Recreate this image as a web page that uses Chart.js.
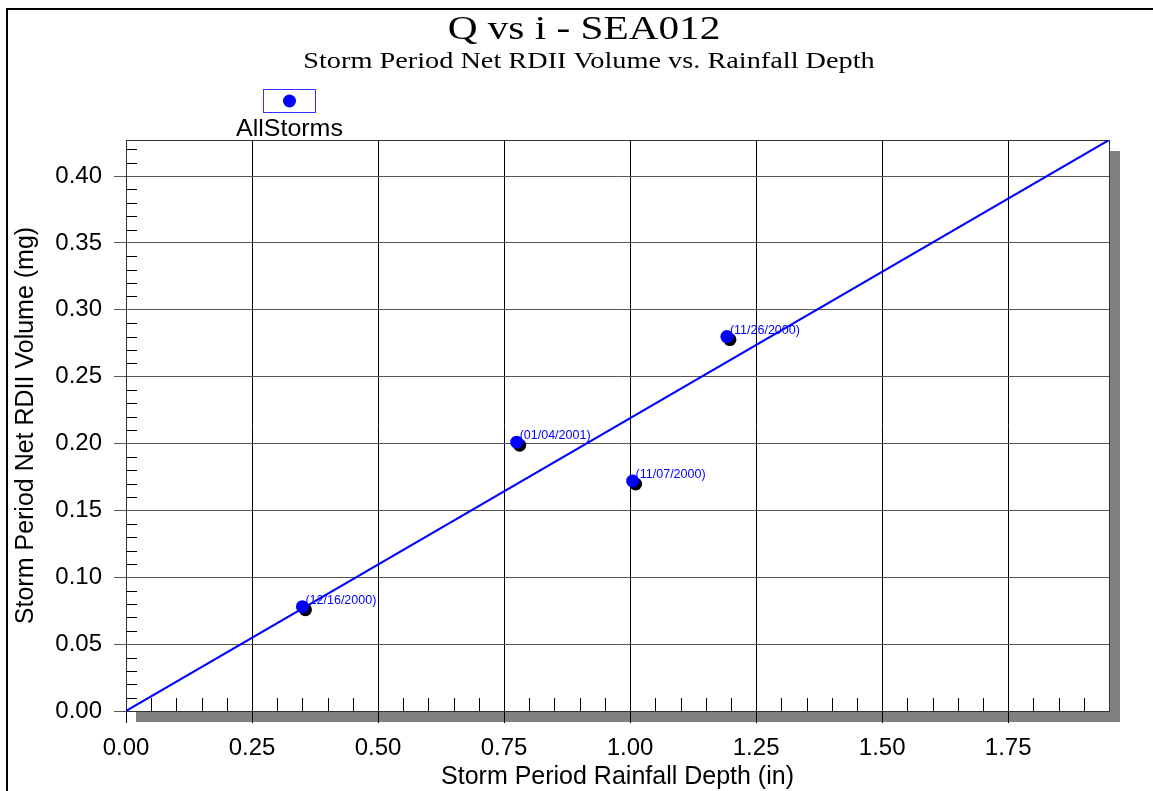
<!DOCTYPE html>
<html>
<head>
<meta charset="utf-8">
<title>Q vs i - SEA012</title>
<script src="https://cdn.jsdelivr.net/npm/chart.js@4.4.1/dist/chart.umd.min.js"></script>
<style>
  html, body { margin: 0; padding: 0; background: #ffffff; overflow: hidden; }
  canvas { display: block; }
</style>
</head>
<body>
<canvas id="myChart" width="1153" height="791"></canvas>
<script>
// data
const stormLabels = ['(12/16/2000)', '(01/04/2001)', '(11/07/2000)', '(11/26/2000)'];
const rainDepth = [0.350, 0.775, 1.005, 1.192];   // in
const rdiiVolume = [0.078, 0.201, 0.172, 0.280];  // mg

// fitted line through origin
const fitX = [0, 1.95];
const fitY = [0, 0.427];

const xTicks = [0, 0.25, 0.5, 0.75, 1.0, 1.25, 1.5, 1.75];
const yTicks = [0, 0.05, 0.10, 0.15, 0.20, 0.25, 0.30, 0.35, 0.40];

const sansFont = '"Liberation Sans", Arial, sans-serif';
const serifFont = '"Liberation Serif", "Times New Roman", serif';

// text stretched sideways a bit, like the original
function wideText(ctx, text, x, y, font, sx, align) {
     ctx.save();
     ctx.font = font;
     ctx.textAlign = align || 'center';
     ctx.textBaseline = 'alphabetic';
     ctx.translate(x, y);
     ctx.scale(sx, 1);
     ctx.fillText(text, 0, 0);
     ctx.restore();
}

const framePlugin = {
     id: 'frame',
     beforeDraw(chart) {
          const { ctx, chartArea: a } = chart;
          ctx.save();
          ctx.fillStyle = '#ffffff';
          ctx.fillRect(0, 0, chart.width, chart.height);
          // drop shadow of the plot box
          ctx.fillStyle = '#808080';
          ctx.fillRect(a.left + 10, a.top + 11, a.right - a.left + 1, a.bottom - a.top);
          ctx.fillStyle = '#ffffff';
          ctx.fillRect(a.left, a.top, a.right - a.left, a.bottom - a.top);
          // outer frame (only left / top in view)
          ctx.strokeStyle = '#000000';
          ctx.lineWidth = 2;
          ctx.strokeRect(7, 9, chart.width + 40, chart.height + 40);

          // titles
          ctx.fillStyle = '#000000';
          wideText(ctx, 'Q vs i - SEA012', 584, 39, '33px ' + serifFont, 1.25);
          wideText(ctx, 'Storm Period Net RDII Volume vs. Rainfall Depth', 589, 68, '23px ' + serifFont, 1.23);

          // legend
          ctx.strokeStyle = '#3333ff';
          ctx.lineWidth = 1;
          ctx.strokeRect(263.5, 89.5, 52, 23);
          ctx.fillStyle = '#0000ff';
          ctx.beginPath();
          ctx.arc(289.5, 101, 6.5, 0, Math.PI * 2);
          ctx.fill();
          ctx.fillStyle = '#000000';
          wideText(ctx, chart.data.datasets[0].label, 289.5, 136, '24px ' + sansFont, 1.04);
          ctx.restore();
     },
     beforeDatasetsDraw(chart) {
          const { ctx, chartArea: a, scales } = chart;
          ctx.save();
          ctx.strokeStyle = '#000000';
          ctx.lineWidth = 1;
          ctx.beginPath();
          // minor ticks inside the box
          for (let i = 1; i * 0.05 < 1.95; i++) {
               if (i % 5 === 0) continue;
               const px = Math.round(scales.x.getPixelForValue(i * 0.05)) + 0.5;
               ctx.moveTo(px, a.bottom);
               ctx.lineTo(px, a.bottom - 13);
          }
          for (let i = 1; i * 0.01 < 0.427; i++) {
               if (i % 5 === 0) continue;
               const py = Math.round(scales.y.getPixelForValue(i * 0.01)) + 0.5;
               ctx.moveTo(a.left, py);
               ctx.lineTo(a.left + 11, py);
          }
          ctx.stroke();
          // plot border
          ctx.strokeStyle = '#333333';
          ctx.strokeRect(Math.round(a.left) + 0.5, Math.round(a.top) + 0.5,
               Math.round(a.right - a.left), Math.round(a.bottom - a.top));
          ctx.restore();
     },
     beforeDatasetDraw(chart, args) {
          if (args.index !== 0) return;
          const ctx = chart.ctx;
          ctx.save();
          ctx.shadowColor = '#000000';
          ctx.shadowOffsetX = 3;
          ctx.shadowOffsetY = 3;
          ctx.shadowBlur = 0;
     },
     afterDatasetDraw(chart, args) {
          if (args.index !== 0) return;
          chart.ctx.restore();
     },
     afterDatasetsDraw(chart) {
          // date labels next to each storm point
          const ctx = chart.ctx;
          const meta = chart.getDatasetMeta(0);
          ctx.save();
          ctx.fillStyle = '#0000ff';
          ctx.font = '12.5px ' + sansFont;
          ctx.textAlign = 'left';
          ctx.textBaseline = 'alphabetic';
          meta.data.forEach((pt, i) => {
               ctx.fillText(stormLabels[i], pt.x + 3, pt.y - 3);
          });
          ctx.restore();
     }
};

const ctx1 = document.getElementById('myChart').getContext('2d');

const config = {
     type: 'scatter',
     data: {
          datasets: [{
               label: 'AllStorms',
               data: rainDepth.map((x, i) => ({ x: x, y: rdiiVolume[i] })),
               backgroundColor: '#0000ff',
               borderWidth: 0,
               pointRadius: 6.5,
               pointHoverRadius: 6.5
          }, {
               label: 'fit',
               data: fitX.map((x, i) => ({ x: x, y: fitY[i] })),
               showLine: true,
               borderColor: '#0000ff',
               borderWidth: 2,
               pointRadius: 0,
               fill: false
          }]
     },
     options: {
          responsive: false,
          animation: false,
          devicePixelRatio: 1,
          layout: {
               padding: { left: 0, top: 140, right: 44, bottom: 0 }
          },
          plugins: {
               legend: { display: false },
               tooltip: { enabled: false }
          },
          scales: {
               x: {
                    type: 'linear',
                    min: 0,
                    max: 1.95,
                    afterBuildTicks: s => { s.ticks = xTicks.map(v => ({ value: v })); },
                    afterFit: s => { s.height = 80; },
                    ticks: {
                         callback: v => v.toFixed(2),
                         color: '#000000',
                         autoSkip: false,
                         maxRotation: 0,
                         padding: 11,
                         font: { family: sansFont, size: 24 }
                    },
                    grid: {
                         color: '#000000',
                         lineWidth: 1,
                         tickLength: 12
                    },
                    border: { display: false },
                    title: {
                         display: true,
                         text: 'Storm Period Rainfall Depth (in)',
                         color: '#000000',
                         padding: 0,
                         font: { family: sansFont, size: 25, lineHeight: 1.1 }
                    }
               },
               y: {
                    type: 'linear',
                    min: 0,
                    max: 0.427,
                    afterBuildTicks: s => { s.ticks = yTicks.map(v => ({ value: v })); },
                    afterFit: s => { s.width = 126; },
                    ticks: {
                         callback: v => v.toFixed(2),
                         color: '#000000',
                         autoSkip: false,
                         padding: 12,
                         font: { family: sansFont, size: 24 }
                    },
                    grid: {
                         color: '#555555',
                         lineWidth: 1,
                         tickLength: 12
                    },
                    border: { display: false },
                    title: {
                         display: true,
                         text: 'Storm Period Net RDII Volume (mg)',
                         color: '#000000',
                         padding: { top: 11, bottom: 0 },
                         font: { family: sansFont, size: 25 }
                    }
               }
          }
     },
     plugins: [framePlugin]
};

const chart1 = new Chart(ctx1, config);
</script>
</body>
</html>
